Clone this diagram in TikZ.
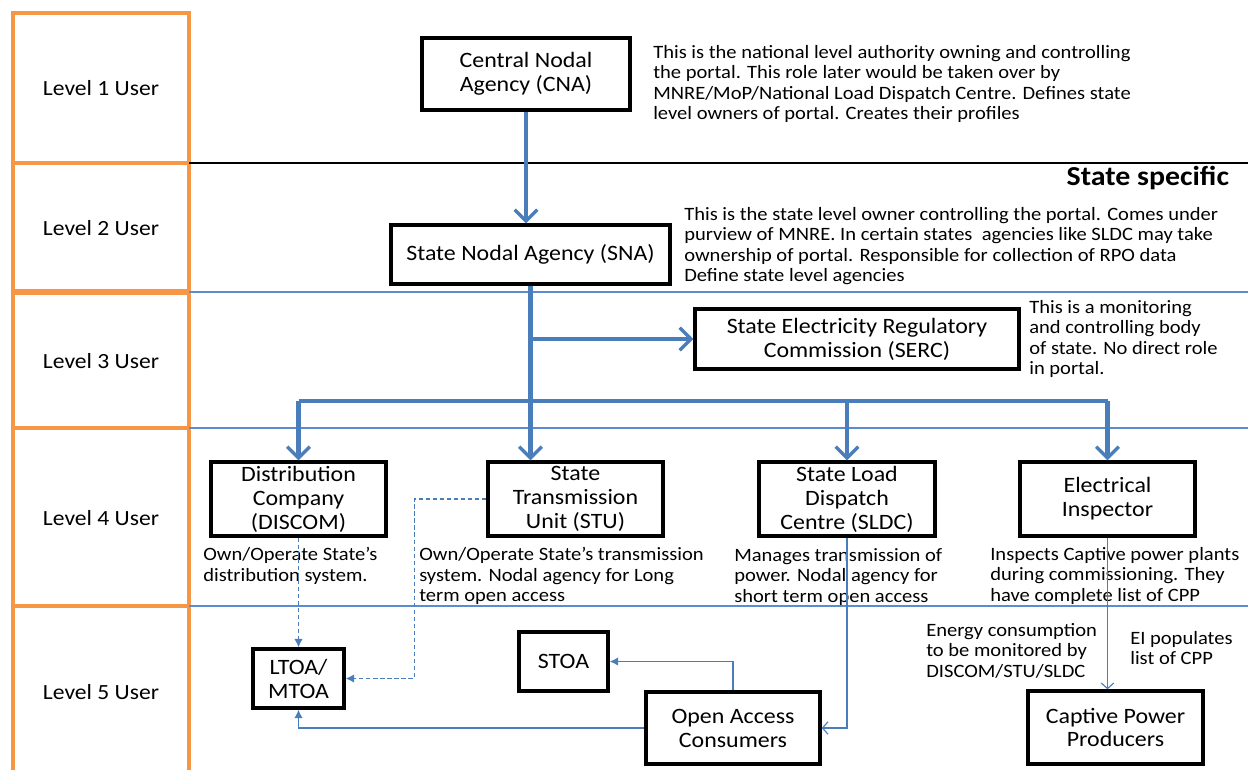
\documentclass[tikz,border=0pt]{standalone}
\usepackage{fontspec}
\setmainfont{Carlito}[FakeStretch=1.09]
\usepackage{xcolor}
\usepackage{tikz}
\usetikzlibrary{arrows.meta, positioning, calc}
\definecolor{lvlorange}{HTML}{F79646}
\definecolor{linkblue}{HTML}{4A7EBB}
\definecolor{rowrule}{HTML}{5B8BD0}
\tikzset{
  %% Level cell on the left
  lvl/.style={draw=lvlorange, line width=2.4pt},
  lvltext/.style={font=\fontsize{15.4}{18}\selectfont},
  %% User box
  ubox/.style={
    rectangle, draw=black, fill=white,
    line width=2.4pt, align=center, inner sep=2pt,
    font=\fontsize{15.6}{17}\selectfont
  },
  %% Explanatory note
  note/.style={
    anchor=north west, align=left, inner sep=0pt,
    font=\fontsize{13.4}{14.6}\selectfont
  },
  %% Thick hierarchy links
  bigline/.style={draw=linkblue, line width=3.2pt},
  bigarr/.style={bigline,
                 -{Straight Barb[length=8pt,width=16pt,line width=2.4pt]}},
  %% Thin links
  thinarr/.style={draw=linkblue, line width=0.8pt,
                  -{Latex[length=6pt,width=6pt]}},
  openarr/.style={draw=linkblue, line width=0.8pt,
                  -{Straight Barb[length=4pt,width=9pt]}},
  dasharr/.style={thinarr, dash pattern=on 3pt off 2pt},
}

\begin{document}
\begin{tikzpicture}[x=0.025cm, y=-0.025cm]
  \useasboundingbox (0,0) rectangle (1248,769);

  %% Level column
  \foreach \ytop/\ybot in {13/163, 163/291, 293/428, 428/606, 606/790}
    \draw[lvl] (13,\ytop) rectangle (189,\ybot);
  \foreach \n/\y in {1/88, 2/228, 3/361, 4/518, 5/692}
    \node[lvltext] (lvl\n) at (101,\y) {Level \n\ User};

  %% Row separators
  \draw[line width=1.8pt] (189,163) -- (1248,163);
  \foreach \y in {292, 428, 606}
    \draw[rowrule, line width=0.8pt] (189,\y) -- (1248,\y);
  \node[font=\fontsize{19.5}{22}\selectfont\bfseries, anchor=east]
        (state) at (1234,178) {State specific};

  %% Level 1-3
  \node[ubox, minimum width=5.2cm, minimum height=1.8cm] (cna)
        at (526,74) {Central Nodal\\Agency (CNA)};
  \node[ubox, minimum width=6.975cm, minimum height=1.475cm] (sna)
        at (530.5,254.5) {State Nodal Agency (SNA)};
  \node[ubox, minimum width=8.1cm, minimum height=1.5cm] (serc)
        at (857,339) {State Electricity Regulatory\\Commission (SERC)};

  %% Level 4
  \node[ubox, minimum width=4.375cm, minimum height=1.85cm] (discom)
        at (298.5,499) {Distribution\\Company\\(DISCOM)};
  \node[ubox, minimum width=4.375cm, minimum height=1.85cm] (stu)
        at (575.5,499) {State\\Transmission\\Unit (STU)};
  \node[ubox, minimum width=4.4cm, minimum height=1.85cm] (sldc)
        at (847,499) {State Load\\Dispatch\\Centre (SLDC)};
  \node[ubox, minimum width=4.375cm, minimum height=1.85cm] (ei)
        at (1107.5,499) {Electrical\\Inspector};

  %% Level 5
  \node[ubox, minimum width=2.275cm, minimum height=1.475cm] (ltoa)
        at (298.5,678.5) {LTOA/\\MTOA};
  \node[ubox, minimum width=2.225cm, minimum height=1.475cm] (stoa)
        at (563.5,661.5) {STOA};
  \node[ubox, minimum width=4.35cm, minimum height=1.8cm] (oac)
        at (733,728) {Open Access\\Consumers};
  \node[ubox, minimum width=4.375cm, minimum height=1.825cm] (cpp)
        at (1115.5,727.5) {Captive Power\\Producers};

  %% Notes
  \node[note] (ncna) at (653,45)
        {This is the national level authority owning and controlling\\
         the portal. This role later would be taken over by\\
         MNRE/MoP/National Load Dispatch Centre. Defines state\\
         level owners of portal. Creates their profiles};
  \node[note] (nsna) at (684,207)
        {This is the state level owner controlling the portal. Comes under\\
         purview of MNRE. In certain states\ \ agencies like SLDC may take\\
         ownership of portal. Responsible for collection of RPO data\\
         Define state level agencies};
  \node[note] (nserc) at (1029,300)
        {This is a monitoring\\and controlling body\\
         of state. No direct role\\in portal.};
  \node[note] (ndiscom) at (203,547)
        {Own/Operate State’s\\distribution system.};
  \node[note] (nstu) at (419,547)
        {Own/Operate State’s transmission\\
         system. Nodal agency for Long\\term open access};
  \node[note] (nsldc) at (734,548)
        {Manages transmission of\\power. Nodal agency for\\
         short term open access};
  \node[note] (nei) at (990,547)
        {Inspects Captive power plants\\during commissioning. They\\
         have complete list of CPP};
  \node[note] (nenergy) at (926,623)
        {Energy consumption\\to be monitored by\\DISCOM/STU/SLDC};
  \node[note] (npop) at (1130,631)
        {EI populates\\list of CPP};

  %% Thick hierarchy arrows
  \coordinate (bus) at (0,401);
  \draw[bigarr] (cna.south) -- (cna.south |- sna.north);
  \draw[bigarr] (sna.south) -- (sna.south |- stu.north);
  \draw[bigarr] (sna.south |- serc.west) -- (serc.west);
  \draw[bigline] (discom.north |- bus) -- (ei.north |- bus);
  \foreach \n in {discom, sldc, ei}
    \draw[bigarr] (\n.north |- bus) -- (\n.north);

  %% Thin links
  \draw[dasharr] (discom.south) -- (ltoa.north);
  \draw[dasharr] (stu.west) -- ++(-72,0) |- (ltoa.east);
  \draw[thinarr] (oac.west) -| (ltoa.south);
  \draw[thinarr] (oac.north) |- (stoa.east);
  \draw[openarr] (sldc.south) |- (oac.east);
  \draw[openarr] (ei.south) -- (ei.south |- cpp.north);

\end{tikzpicture}
\end{document}
